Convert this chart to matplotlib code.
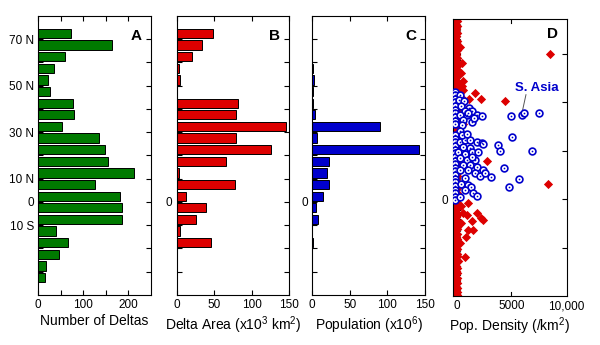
import matplotlib

matplotlib.use("Agg")
import matplotlib.pyplot as plt

plt.rcParams["font.family"] = ["Liberation Sans", "DejaVu Sans"]
plt.rcParams["mathtext.default"] = "regular"

# latitude bin centres (5 degree bins), north positive
lat_bins = [72.5, 67.5, 62.5, 57.5, 52.5, 47.5, 42.5, 37.5, 32.5, 27.5, 22.5,
            17.5, 12.5, 7.5, 2.5, -2.5, -7.5, -12.5, -17.5, -22.5, -27.5, -32.5]
n_deltas = [72, 165, 60, 36, 21, 26, 77, 79, 53, 136, 148,
            154, 212, 127, 181, 186, 187, 40, 67, 47, 17, 16]
delta_area = [49, 34, 20, 3.5, 5, 0.5, 82, 79, 145, 79, 125,
              66, 3, 77, 12.5, 39, 26, 4, 46, 0, 0, 0]
population = [0, 0, 0, 0.5, 2, 0.3, 0.5, 3, 90, 6, 142,
              22.5, 19, 22.5, 14, 4.5, 7, 0, 0.5, 0, 0, 0]

lat_ticks = [70, 60, 50, 40, 30, 20, 10, 0, -10, -20, -30]
lat_labels = ["70 N", "", "50 N", "", "30 N", "", "10 N", "0", "10 S", "", ""]
zero_only = ["", "", "", "", "", "", "", "0", "", "", ""]

# panel D: deltas with density near zero (the dense red strip)
red_col_lat = [74.5, 73.5, 72.5, 71.5, 70.5, 69.5, 68.5, 67.5, 66.5, 65.5, 64.5,
               63.5, 62.5, 61.5, 60.5, 59.5, 58.5, 57.5, 56.5, 55.5, 54.5, 53.5,
               52.5, 51.5, 50.5, 49.5, 48.5, 47.5, 46.5, 45.5, 44.5, 43.5, 42.5,
               41.5, 40.5, 39.5, 38.5, 37.5, 36.5, 35.5, 34.5, 33.5, 32.5, 31.5,
               30.5, 29.5, 28.5, 27.5, 26.5, 25.5, 24.5, 23.5, 22.5, 21.5, 20.5,
               19.5, 18.5, 17.5, 16.5, 15.5, 14.5, 13.5, 12.5, 11.5, 10.5, 9.5,
               8.5, 7.5, 6.5, 5.5, 4.5, 3.5, 2.5, 1.5, 0.5, -0.5, -1.5, -2.5,
               -3.5, -4.5, -5.5, -6.5, -7.5, -8.5, -9.5, -10.5, -11.5, -12.5,
               -13.5, -14.5, -15.5, -16.5, -17.5, -18.5, -19.5, -20.5, -21.5,
               -22.5, -23.5, -24.5, -25.5, -26.5, -27.5, -28.5, -29.5, -30.5,
               -31.5, -32.5, -33.5, -34.5, -35.5, -36.5, -37.5, -38.5, -39.5]
red_col_x = [-120, -40, -180, 20, -90, -150, 0, -60, -200, 40, -110, -20, -170,
             30, -80, -140, 10, -190, -50, 50, -130, -10, -160, 20, -70, -210,
             40, -100, -30, -180, 10, -120, 60, -60, -150, 0, -200, 30, -90,
             -20, -170, 50, -110, -40, -190, 10, -70, -140, 40, -30, -200, 0,
             -100, 30, -160, -50, 20, -120, -210, 50, -80, -10, -170, 20, -130,
             40, -60, -190, 0, -100, 30, -150, -30, 50, -200, -70, 10, -120, 40,
             -170, -20, 20, -90, -210, 50, -140, -50, 0, -180, 30, -110, -30,
             -200, 40, -80, 10, -160, -40, 20, -130, 50, -190, -60, 0, -110,
             30, -170, -20, -90, 40, -150, 0, -200, -50, 20]
red_out_x = [8530, 430, 520, 580, 430, 640, 1650, 2200, 1130, 4400, 580, 300,
             350, 2780, 8320, 1040, 1800, 2200, 2410, 1400, 1040, 1500, 830,
             730, 550, 890, 400, 350, 300, 450, 380]
red_out_lat = [60, 56.3, 49, 45.2, 41.9, 40, 44.1, 41.4, 41.4, 40.8, 31.2, 63,
               52, 15.8, 6.2, -1.5, -5.5, -7.9, -8.6, -8.9, -12.7, -12.7, -15.5,
               -23.7, -5.7, -6.5, -3, -10, -18, 47, 38]

# panel D: S. Asia deltas (open circles)
blue_x = [-200, -200, -200, -200, -200, -200, -200, -200, -200, -200,
          300, 150, 650, 400, 1100, 1345, 700, 275, 886, 1800, 2250, 580, 1345,
          1600, 428, 275, 1000,
          4920, 5930, 6150, 7550,
          -200, -200, -200, -200, -200, -200, -200, -200, -200, -200, -200,
          -200, -200, -200, -200, -200, -200, -200, -200,
          275, 733, 1192, 1800, 2260, 580, 1192, 122, 733, 1345, 275, 886, 1650,
          580, 1192, 1800, 2410, 275, 1040, 1650, 2110, 3090, 733, 400, 1000,
          1300, 730, 1500, 1800, 300, 1960, 2570, 2350, 1400, 500, 900,
          5020, 3730, 3950, 6850, 4310, 5690, 4770]
blue_lat = [44.5, 43, 41.5, 40, 38.5, 37, 35.5, 34, 32.5, 31,
            43, 41, 40.5, 38.5, 37.5, 36.3, 36.5, 34.9, 34.9, 34.9, 34.2, 32.8,
            32.1, 33.5, 30.7, 28, 35.5,
            34.5, 34.7, 35.6, 35.6,
            26.5, 25, 23.5, 22, 20.5, 19, 17.5, 16, 14.5, 13, 11.5, 10, 8.5,
            7, 5.5, 4, 2.5, 1, -0.5,
            23.7, 24.4, 24.4, 23.7, 23.3, 21.7, 21, 19.6, 18.9, 19.6, 16.9, 16.2,
            16.2, 14.2, 14.2, 13.5, 12.1, 12.1, 12.1, 10.7, 9.7, 9.1, 8.6, 6.5,
            6, 5, 3.8, 2.5, 1.5, 1, 19.4, 11, 22.9, 17.5, 26.5, 27,
            25.6, 22.3, 20, 20.1, 12.8, 8.4, 5.2]

GREEN = "#007a00"
RED = "#dd0000"
BLUE = "#0000cc"


def style_axes(ax, letter, letter_y=0.955):
    ax.tick_params(direction="in", top=True, right=True, length=3.5,
                   width=0.8, labelsize=8.5, pad=3)
    for spine in ax.spines.values():
        spine.set_linewidth(0.8)
    ax.text(0.92, letter_y, letter, transform=ax.transAxes, ha="right",
            va="top", fontsize=11, fontweight="bold")


def bar_panel(ax, values, color, xmax, xticks, xlabels, ylabels, xlabel, letter):
    ax.barh(lat_bins, values, height=4.0, color=color, edgecolor="black",
            linewidth=0.7)
    ax.set_ylim(-40, 80)
    ax.set_xlim(0, xmax)
    ax.set_yticks(lat_ticks)
    ax.set_yticklabels(ylabels)
    ax.set_xticks(xticks)
    ax.set_xticklabels(xlabels)
    ax.set_xlabel(xlabel, fontsize=10, labelpad=2)
    style_axes(ax, letter)


fig = plt.figure(figsize=(6, 3.45), dpi=100)
ax_a = fig.add_axes([0.0638, 0.145, 0.1873, 0.8087])
ax_b = fig.add_axes([0.2945, 0.145, 0.1877, 0.8087])
ax_c = fig.add_axes([0.5205, 0.145, 0.1878, 0.8087])
ax_d = fig.add_axes([0.7545, 0.142, 0.1905, 0.803])

bar_panel(ax_a, n_deltas, GREEN, 250, [0, 50, 100, 150, 200],
          ["0", "", "100", "", "200"], lat_labels, "Number of Deltas", "A")
bar_panel(ax_b, delta_area, RED, 150, [0, 50, 100, 150],
          ["0", "50", "100", "150"], zero_only,
          r"Delta Area (x10$^3$ km$^2$)", "B")
bar_panel(ax_c, population, BLUE, 150, [0, 50, 100, 150],
          ["0", "50", "100", "150"], zero_only,
          r"Population (x10$^6$)", "C")

# panel D
ax_d.axvline(275, color="black", linestyle=":", linewidth=0.8, zorder=1)
ax_d.scatter(red_col_x, red_col_lat, marker="D", s=24, color=RED,
             linewidths=0, zorder=2)
ax_d.scatter(red_out_x, red_out_lat, marker="D", s=22, color=RED,
             linewidths=0, zorder=2)
ax_d.scatter(blue_x, blue_lat, marker="o", s=24, facecolor="white",
             edgecolor=BLUE, linewidths=1.2, zorder=3)
ax_d.scatter(blue_x, blue_lat, marker="o", s=1.5, color=BLUE,
             linewidths=0, zorder=4)
ax_d.text(7300, 46, "S. Asia", color=BLUE, fontsize=9.5, fontweight="bold",
          ha="center", va="center")
ax_d.plot([6330, 6030], [43.2, 37], color="#555555", linewidth=0.7)
ax_d.set_xlim(-400, 10100)
ax_d.set_ylim(-40, 74.5)
ax_d.set_xticks([0, 5000, 10000])
ax_d.set_xticklabels(["0", "5000", "10,000"])
ax_d.set_yticks([60, 40, 20, 0, -20])
ax_d.set_yticklabels(["", "", "", "0", ""])
ax_d.set_xlabel(r"Pop. Density (/km$^2$)", fontsize=10, labelpad=2)
style_axes(ax_d, "D", letter_y=0.97)
ax_d.tick_params(axis="x", length=0)
for x in (5000,):
    ax_d.plot([x, x], [-40, -38.3], color="black", linewidth=0.8)
    ax_d.plot([x, x], [74.5, 72.8], color="black", linewidth=0.8)

fig.savefig("out.png", dpi=100)
